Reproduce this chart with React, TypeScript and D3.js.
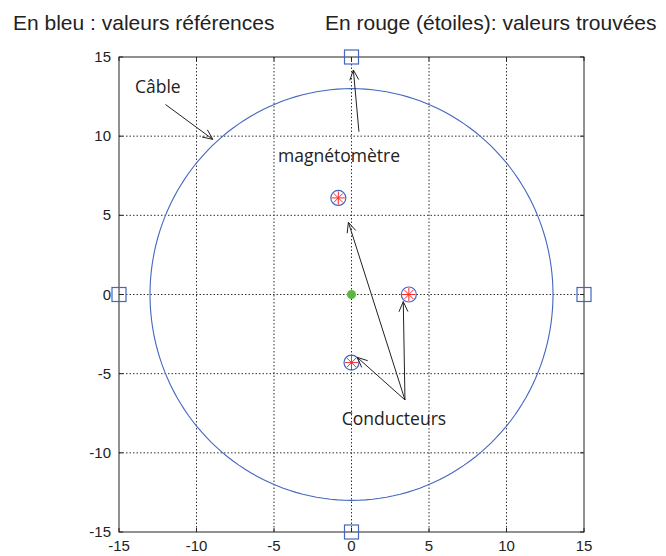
import React from "react";
import * as d3 from "d3";

const ticks = [-15, -10, -5, 0, 5, 10, 15];
const cableRadius = [13];
const sensorX = [0, 15, 0, -15];
const sensorY = [15, 0, -15, 0];
const refX = [-0.85, 3.7, 0];
const refY = [6.1, 0, -4.3];
const foundX = [-0.85, 3.7, 0];
const foundY = [6.1, 0, -4.3];
const centerPt = [0, 0];

const W = 666, H = 556;
const margin = { left: 119, right: 82, top: 57, bottom: 24 };

export default function App() {
  const x = d3.scaleLinear().domain([-15, 15]).range([margin.left, W - margin.right]);
  const y = d3.scaleLinear().domain([-15, 15]).range([H - margin.bottom, margin.top]);
  const x0 = x(-15), x1 = x(15), y0 = y(-15), y1 = y(15);

  const circlePts: [number, number][] = d3.range(0, 361, 2).map((a) => {
    const t = (a * Math.PI) / 180;
    return [cableRadius[0] * Math.cos(t), cableRadius[0] * Math.sin(t)];
  });
  const line = d3.line<[number, number]>().x((d) => x(d[0])).y((d) => y(d[1]));

  const arrow = (fx: number, fy: number, tx: number, ty: number, key: string) => {
    const ax = x(fx), ay = y(fy), bx = x(tx), by = y(ty);
    const ang = Math.atan2(by - ay, bx - ax);
    const L = 11, s = 0.42;
    const p1 = [bx - L * Math.cos(ang - s), by - L * Math.sin(ang - s)];
    const p2 = [bx - L * Math.cos(ang + s), by - L * Math.sin(ang + s)];
    return (
      <g key={key} stroke="#222" strokeWidth={1} fill="none">
        <line x1={ax} y1={ay} x2={bx} y2={by} />
        <polyline points={`${p1[0]},${p1[1]} ${bx},${by} ${p2[0]},${p2[1]}`} />
      </g>
    );
  };

  const star = (cx: number, cy: number, key: string) => {
    const r = 6.5;
    return (
      <g key={key} stroke="#ff2a2a" strokeWidth={1}>
        {d3.range(4).map((i) => {
          const t = (i * Math.PI) / 4;
          return (
            <line key={i} x1={cx - r * Math.cos(t)} y1={cy - r * Math.sin(t)} x2={cx + r * Math.cos(t)} y2={cy + r * Math.sin(t)} />
          );
        })}
      </g>
    );
  };

  return (
    <svg width={W} height={H} style={{ position: "absolute", left: 0, top: 0 }} fontFamily="'Liberation Sans', Arial, sans-serif">
      <rect width={W} height={H} fill="#fff" />
      {/* grid */}
      <g stroke="#333" strokeWidth={1} strokeDasharray="1.5,2">
        {ticks.slice(1, -1).map((t) => (
          <line key={"gx" + t} x1={x(t)} x2={x(t)} y1={y1} y2={y0} />
        ))}
        {ticks.slice(1, -1).map((t) => (
          <line key={"gy" + t} x1={x0} x2={x1} y1={y(t)} y2={y(t)} />
        ))}
      </g>
      {/* frame */}
      <rect x={x0} y={y1} width={x1 - x0} height={y0 - y1} fill="none" stroke="#222" strokeWidth={1} />
      {/* ticks */}
      <g stroke="#222" strokeWidth={1}>
        {ticks.map((t) => (
          <g key={"t" + t}>
            <line x1={x(t)} x2={x(t)} y1={y0} y2={y0 - 4} />
            <line x1={x(t)} x2={x(t)} y1={y1} y2={y1 + 4} />
            <line x1={x0} x2={x0 + 4} y1={y(t)} y2={y(t)} />
            <line x1={x1} x2={x1 - 4} y1={y(t)} y2={y(t)} />
          </g>
        ))}
      </g>
      {/* tick labels */}
      <g fontSize={15} fill="#222">
        {ticks.map((t) => (
          <text key={"xl" + t} x={x(t)} y={y0 + 19} textAnchor="middle">{t}</text>
        ))}
        {ticks.map((t) => (
          <text key={"yl" + t} x={x0 - 8} y={y(t) + 5} textAnchor="end">{t}</text>
        ))}
      </g>
      {/* cable */}
      <path d={line(circlePts) || ""} fill="none" stroke="#4466c0" strokeWidth={1.1} />
      {/* sensors */}
      {sensorX.map((sx, i) => (
        <rect key={"s" + i} x={x(sx) - 7} y={y(sensorY[i]) - 7} width={14} height={14} fill="none" stroke="#4466c0" strokeWidth={1.2} />
      ))}
      {/* reference circles */}
      {refX.map((rx, i) => (
        <circle key={"r" + i} cx={x(rx)} cy={y(refY[i])} r={7.5} fill="none" stroke="#4466c0" strokeWidth={1.2} />
      ))}
      {foundX.map((fx, i) => star(x(fx), y(foundY[i]), "f" + i))}
      <circle cx={x(centerPt[0])} cy={y(centerPt[1])} r={4.5} fill="#5cb83a" />
      {/* annotations */}
      {arrow(-12.0, 12.0, -8.95, 9.8, "a1")}
      {arrow(0.48, 10.28, 0.12, 14.18, "a2")}
      {arrow(3.45, -6.66, -0.2, 4.56, "a3")}
      {arrow(3.45, -6.66, 3.34, -0.45, "a4")}
      {arrow(3.45, -6.66, 0.37, -3.97, "a5")}
      <g fontFamily="'Open Sans', 'Noto Sans', sans-serif" fontSize={17.5} fill="#222">
        <text x={x(-13.97)} y={y(12.73)}>Câble</text>
        <text x={x(-0.8)} y={y(8.35)} textAnchor="middle">magnétomètre</text>
        <text x={x(2.74)} y={y(-8.24)} textAnchor="middle">Conducteurs</text>
      </g>
      <g fontSize={21} fill="#222">
        <text x={13} y={30}>En bleu : valeurs références</text>
        <text x={325} y={30}>En rouge (étoiles): valeurs trouvées</text>
      </g>
    </svg>
  );
}
